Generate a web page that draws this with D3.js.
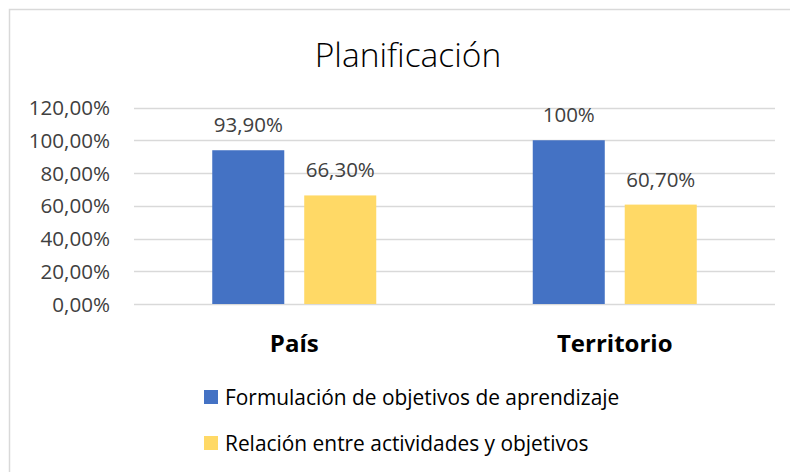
<!DOCTYPE html>
<html>
<head>
<meta charset="utf-8">
<script src="https://cdn.jsdelivr.net/npm/d3@7"></script>
<style>
  html, body { margin: 0; padding: 0; background: #fff; }
  svg { display: block; font-family: "Open Sans", Lato, sans-serif; }
</style>
</head>
<body>
<svg id="chart" width="790" height="472"></svg>
<script>
const title = "Planificación";
const categories = ["País", "Territorio"];
const seriesNames = ["Formulación de objetivos de aprendizaje", "Relación entre actividades y objetivos"];
const formulacion = [93.9, 100];
const relacion = [66.3, 60.7];
const valueLabels = [["93,90%", "100%"], ["66,30%", "60,70%"]];
const yTicks = [0, 20, 40, 60, 80, 100, 120];
const colors = ["#4472C4", "#FFD966"];

const svg = d3.select("#chart");
const W = 790, H = 472;

// outer border
svg.append("rect").attr("x", 9.5).attr("y", 9.5).attr("width", W + 10).attr("height", H + 10)
  .attr("fill", "#fff").attr("stroke", "#d9d9d9").attr("stroke-width", 1.5);

const plot = { left: 134, right: 775, top: 107.5, bottom: 304 };

const x0 = d3.scaleBand().domain(categories).range([plot.left, plot.right]).paddingInner(0).paddingOuter(0);
const x1 = d3.scaleBand().domain([0, 1]).range([0, 164]).paddingInner(0.217).paddingOuter(0);
const y = d3.scaleLinear().domain([0, 120]).range([plot.bottom, plot.top]);

// gridlines
svg.append("g").selectAll("line").data(yTicks).join("line")
  .attr("x1", plot.left).attr("x2", plot.right)
  .attr("y1", d => Math.round(y(d)) + 0.5).attr("y2", d => Math.round(y(d)) + 0.5)
  .attr("stroke", "#d9d9d9").attr("stroke-width", 1.5);

// y axis labels
const yAxis = d3.axisLeft(y).tickValues(yTicks).tickSize(0).tickPadding(0)
  .tickFormat(d => d3.format(".2f")(d).replace(".", ",") + "%");
const ga = svg.append("g").attr("transform", `translate(110,0)`).call(yAxis);
ga.select(".domain").remove();
ga.selectAll("text").attr("font-size", 20.6).attr("fill", "#404040")
  .attr("font-family", "'Open Sans', sans-serif").attr("dy", "0.35em");

const series = [formulacion, relacion];
const groups = svg.append("g").selectAll("g").data(categories).join("g")
  .attr("transform", d => `translate(${x0(d) + (x0.bandwidth() - 164) / 2},0)`);

groups.each(function(cat, ci) {
  const g = d3.select(this);
  series.forEach((vals, si) => {
    g.append("rect")
      .attr("x", x1(si)).attr("width", x1.bandwidth())
      .attr("y", y(vals[ci])).attr("height", y(0) - y(vals[ci]))
      .attr("fill", colors[si]);
    g.append("text")
      .attr("x", x1(si) + x1.bandwidth() / 2)
      .attr("y", y(vals[ci]) - 18)
      .attr("text-anchor", "middle")
      .attr("font-size", 20.5).attr("fill", "#404040")
      .text(valueLabels[si][ci]);
  });
});

// category labels
const xAxis = d3.axisBottom(x0).tickSize(0).tickPadding(0);
const gx = svg.append("g").attr("transform", `translate(0,${plot.bottom})`).call(xAxis);
gx.select(".domain").remove();
gx.selectAll("text").attr("dy", 0).attr("y", 48).attr("font-size", 24).attr("font-weight", "bold")
  .attr("fill", "#000").attr("font-family", "'Open Sans', sans-serif");

// title
svg.append("text").attr("x", 408).attr("y", 67).attr("text-anchor", "middle")
  .attr("font-size", 33.5).attr("font-weight", 300).attr("fill", "#000").text(title);

// legend
const leg = svg.append("g").selectAll("g").data(seriesNames).join("g")
  .attr("transform", (d, i) => `translate(204,${390 + i * 46})`);
leg.append("rect").attr("width", 14).attr("height", 14).attr("fill", (d, i) => colors[i]);
leg.append("text").attr("x", 21).attr("y", 14.5).attr("font-size", 20.9).attr("fill", "#000").text(d => d);
</script>
</body>
</html>
